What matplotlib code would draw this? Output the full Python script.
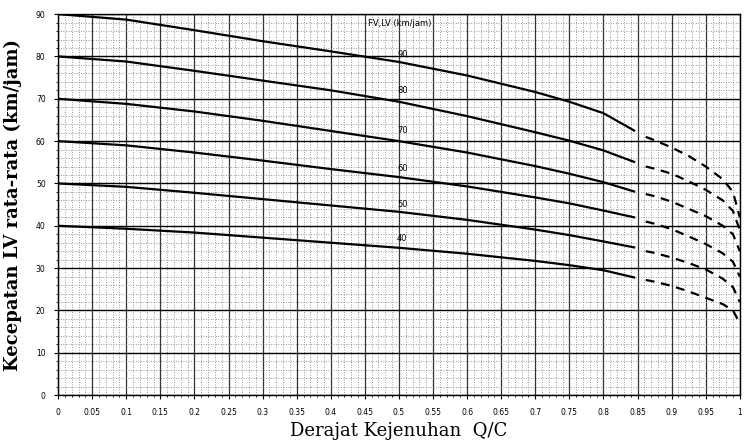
import numpy as np
import matplotlib.pyplot as plt
from matplotlib.ticker import MultipleLocator, FuncFormatter

# Kurva kecepatan arus bebas (FV)
fv_labels = ["90", "80", "70", "60", "50", "40"]

# bagian garis penuh
q_solid = [0, 0.1, 0.2, 0.3, 0.4, 0.5, 0.6, 0.7, 0.75, 0.8, 0.845]
v_solid = {
    "90": [90, 88.7, 86.2, 83.6, 81.2, 78.7, 75.5, 71.6, 69.3, 66.6, 62.5],
    "80": [80, 78.8, 76.6, 74.3, 72.0, 69.3, 65.9, 62.1, 60.1, 57.8, 55.1],
    "70": [70, 68.8, 67.0, 64.8, 62.4, 60.0, 57.3, 54.1, 52.3, 50.3, 48.1],
    "60": [60, 59.0, 57.3, 55.4, 53.4, 51.5, 49.3, 46.7, 45.3, 43.6, 42.0],
    "50": [50, 49.2, 47.8, 46.3, 44.8, 43.3, 41.4, 39.1, 37.8, 36.3, 34.9],
    "40": [40, 39.3, 38.4, 37.2, 36.0, 34.8, 33.4, 31.7, 30.7, 29.5, 27.8],
}

# bagian garis putus-putus
q_dash = [0.862, 0.875, 0.9, 0.925, 0.95, 0.975, 0.99, 1.0]
v_dash = {
    "90": [61.0, 60.2, 58.5, 56.5, 54.0, 51.0, 48.0, 42.0],
    "80": [54.0, 53.5, 52.3, 50.5, 48.5, 46.0, 43.5, 39.0],
    "70": [47.5, 47.0, 45.7, 44.0, 42.3, 40.0, 38.0, 34.0],
    "60": [41.0, 40.5, 39.2, 37.5, 35.7, 33.5, 31.5, 28.0],
    "50": [34.0, 33.6, 32.5, 31.2, 29.7, 27.5, 25.5, 22.0],
    "40": [27.2, 26.8, 25.8, 24.5, 23.0, 21.5, 20.0, 17.0],
}

# posisi label pada kurva
label_q = 0.505
label_v = [80.5, 72.0, 62.5, 53.5, 45.0, 37.0]

fig = plt.figure(figsize=(7.45, 4.41), dpi=100)
ax = fig.add_axes([0.078, 0.104, 0.915, 0.864])

ax.set_xlim(0, 1)
ax.set_ylim(0, 90)

# kertas grafik
ax.xaxis.set_major_locator(MultipleLocator(0.05))
ax.xaxis.set_minor_locator(MultipleLocator(0.01))
ax.yaxis.set_major_locator(MultipleLocator(10))
ax.yaxis.set_minor_locator(MultipleLocator(2))
ax.grid(True, which='major', axis='y', color='black', linewidth=1.0)
ax.grid(True, which='major', axis='x', color='#333333', linewidth=0.9)
ax.grid(True, which='minor', color='#777777', linewidth=0.6, linestyle=(0, (1, 2)))
ax.set_axisbelow(True)

for name in fv_labels:
    ax.plot(q_solid, v_solid[name], color='black', linewidth=1.6, zorder=3)
    ax.plot(q_dash, v_dash[name], color='black', linewidth=1.6,
            linestyle=(0, (4, 3)), zorder=3)

for name, lv in zip(fv_labels, label_v):
    ax.text(label_q, lv, name, fontsize=6, ha='center', va='center',
            family='DejaVu Sans', zorder=4)
ax.text(0.455, 87.7, "FV,LV (km/jam)", fontsize=6, ha='left', va='center',
        family='DejaVu Sans', zorder=4)

def fmt(x, pos):
    s = "%.2f" % x
    s = s.rstrip('0').rstrip('.')
    return s

ax.xaxis.set_major_formatter(FuncFormatter(fmt))
ax.tick_params(axis='both', which='major', labelsize=5.5, length=3, pad=6)
ax.tick_params(axis='both', which='minor', length=1.5)

for s in ax.spines.values():
    s.set_linewidth(1.0)

ax.set_xlabel("Derajat Kejenuhan  Q/C", family='DejaVu Serif',
              fontsize=13, labelpad=4)
ax.set_ylabel("Kecepatan LV rata-rata (km/jam)", family='DejaVu Serif',
              fontsize=13, fontweight='bold', labelpad=10)

fig.savefig("out.png", dpi=100)
